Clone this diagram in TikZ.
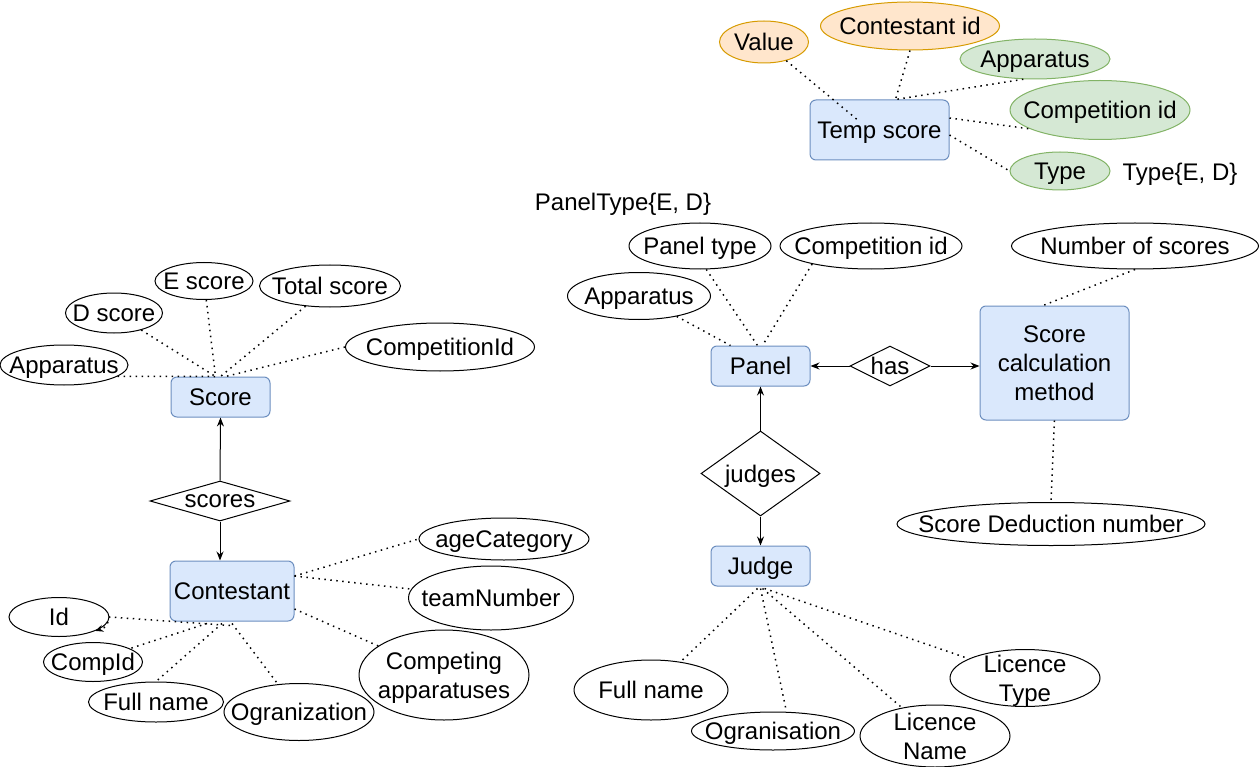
\documentclass[tikz,border=0pt]{standalone}
\usepackage{fontspec}
\setmainfont{Liberation Sans}
\usetikzlibrary{shapes.geometric,arrows.meta,calc}
\definecolor{entF}{HTML}{DAE8FC}
\definecolor{entD}{HTML}{6C8EBF}
\definecolor{orF}{HTML}{FFE6CC}
\definecolor{orD}{HTML}{D79B00}
\definecolor{grF}{HTML}{D5E8D4}
\definecolor{grD}{HTML}{82B366}
\begin{document}
\begin{tikzpicture}[x=1pt,y=-1pt, font=\fontsize{24}{29}\selectfont,
 every node/.append style={text depth=0pt},
 ent/.style={draw=entD, fill=entF, rounded corners=6pt, line width=1pt, inner sep=0pt, align=center},
 attr/.style n args={3}{ellipse, draw, fill=white, line width=1pt, minimum width=#1pt, minimum height=#2pt, inner sep=0pt, label={[align=center,inner sep=0pt]center:#3}},
 rel/.style n args={3}{diamond, draw, fill=white, line width=1pt, minimum width=#1pt, minimum height=#2pt, inner sep=0pt, label={[inner sep=0pt]center:#3}},
 attrline/.style={line width=1.5pt, dash pattern=on 1.5pt off 4.5pt},
 arr/.style={line width=1pt, -{Stealth[length=9pt,width=7pt]}}
]
\path[use as bounding box] (0,0) rectangle (1260,767);

% ---------- Temp score ----------
\node[ent, minimum width=139pt, minimum height=60pt] (temp) at (879.5,130) {Temp score};
\node[attr={89}{42}{Value}, fill=orF, draw=orD] (val) at (764,42) {};
\node[attr={179}{48}{Contestant id}, fill=orF, draw=orD] (tcon) at (910,26) {};
\node[attr={150}{40}{Apparatus}, fill=grF, draw=grD] (tapp) at (1035,59) {};
\node[attr={180}{59}{Competition id}, fill=grF, draw=grD] (tcid) at (1100,110) {};
\node[attr={100}{38}{Type}, fill=grF, draw=grD] (ttype) at (1060,171) {};
\node (ttypetxt) at (1180,172) {Type\{E, D\}};

% ---------- Score ----------
\node[ent, minimum width=99pt, minimum height=40pt] (score) at (220.5,397) {Score};
\node[attr={128}{40}{Apparatus}] (sapp) at (64,365) {};
\node[attr={97}{40}{D score}] (sd) at (114,313) {};
\node[attr={98}{37}{E score}] (se) at (204,281) {};
\node[attr={141}{42}{Total score}] (st) at (330,286) {};
\node[attr={189}{48}{CompetitionId}] (scid) at (440,347) {};
\node[rel={140}{40}{scores}] (scores) at (220,501) {};

% ---------- Contestant ----------
\node[ent, minimum width=124pt, minimum height=60pt] (cont) at (232,591) {Contestant};
\node[attr={170}{42}{ageCategory}] (age) at (504,539) {};
\node[attr={165}{64}{teamNumber}] (team) at (491,598) {};
\node[attr={170}{90}{Competing\\apparatuses}] (capp) at (444,675) {};
\node[attr={150}{57}{Ogranization}] (corg) at (299,712) {};
\node[attr={135}{40}{Full name}] (cfn) at (156,702) {};
\node[attr={99}{39}{CompId}] (ccomp) at (93,662) {};
\node[attr={100}{39}{Id}] (cid) at (59,617) {};

% ---------- Panel ----------
\node (ptypetxt) at (623,202) {PanelType\{E, D\}};
\node[ent, minimum width=99pt, minimum height=40pt] (panel) at (760.5,366) {Panel};
\node[attr={142}{46}{Panel type}] (ptype) at (700,246) {};
\node[attr={182}{46}{Competition id}] (pcid) at (871,246) {};
\node[attr={143}{47}{Apparatus}] (papp) at (639,296) {};
\node[rel={80}{40}{has}] (has) at (890,366) {};
\node[ent, minimum width=149pt, minimum height=114pt] (scm) at (1054.5,363) {Score\\calculation\\method};
\node[attr={247}{46}{Number of scores}] (nsc) at (1135,246) {};
\node[attr={308}{43}{Score Deduction number}] (sdn) at (1051,524) {};

% ---------- Judge ----------
\node[rel={119}{85}{judges}] (judges) at (760.5,473.5) {};
\node[ent, minimum width=99pt, minimum height=40pt] (judge) at (760.5,566) {Judge};
\node[attr={154}{60}{Full name}] (jfn) at (651,690) {};
\node[attr={163}{38}{Ogranisation}] (jorg) at (773,731) {};
\node[attr={150}{62}{Licence\\Name}] (jln) at (935,736) {};
\node[attr={150}{57}{Licence\\Type}] (jlt) at (1025,678) {};

% ---------- connectors: Temp score ----------
\draw[attrline] (val.-40) -- ($(temp.north)+(-20,22)$);
\draw[attrline] (tcon.south) -- ($(temp.north)+(16,0)$);
\draw[attrline] (tapp.-120) -- ($(temp.north)+(16,0)$);
\draw[attrline] ($(temp.east)+(0,-12)$) -- (tcid.-165);
\draw[attrline] ($(temp.east)+(0,5)$) -- (ttype.west);

% ---------- connectors: Score ----------
\draw[attrline] (sapp.-12) -- ($(score.north)+(-5,0)$);
\draw[attrline] (sd) -- ($(score.north)+(-5,0)$);
\draw[attrline] (se) -- ($(score.north)+(-5,0)$);
\draw[attrline] (st) -- ($(score.north)+(0,0)$);
\draw[attrline] (scid.west) -- ($(score.north)+(5,0)$);
\draw[arr] (scores.north) -- (score.south);
\draw[arr] (scores.south) -- (scores.south |- cont.north);

% ---------- connectors: Contestant ----------
\draw[attrline] ($(cont.east)+(0,-15)$) -- (age.west);
\draw[attrline] ($(cont.east)+(0,-15)$) -- (team);
\draw[attrline] ($(cont.east)+(0,18)$) -- (capp);
\draw[attrline] ($(cont.south)+(0,2)$) -- (corg);
\draw[attrline] ($(cont.south)+(-10,2)$) -- (cfn.north);
\draw[attrline] ($(cont.south)+(-25,2)$) -- (ccomp.20);
\draw[attrline, -{Stealth[length=8pt,width=7pt]}] ($(cont.south)+(-2,4)$) -- (cid.east) .. controls ($(cid.east)+(-3,10)$) .. (cid.-21);

% ---------- connectors: Panel ----------
\draw[attrline] (papp) -- ($(panel.north)+(-30,0)$);
\draw[attrline] (ptype.-75) -- ($(panel.north)+(-3,0)$);
\draw[attrline] (pcid.-163) -- ($(panel.north)+(2,0)$);
\draw[arr] (has.west) -- (panel.east);
\draw[arr] (has.east) -- (has.east -| scm.west);
\draw[attrline] (nsc.south) -- ($(scm.north)+(-11.5,0)$);
\draw[attrline] (scm.south) -- (sdn.north);

% ---------- connectors: Judge ----------
\draw[arr] (judges.north) -- (panel.south);
\draw[arr] (judges.south) -- (judge.north);
\draw[attrline] ($(judge.south)+(-3,2)$) -- (jfn);
\draw[attrline] ($(judge.south)+(0,2)$) -- (jorg.55);
\draw[attrline] ($(judge.south)+(2,2)$) -- (jln);
\draw[attrline] ($(judge.south)+(4,2)$) -- (jlt);
\end{tikzpicture}
\end{document}
